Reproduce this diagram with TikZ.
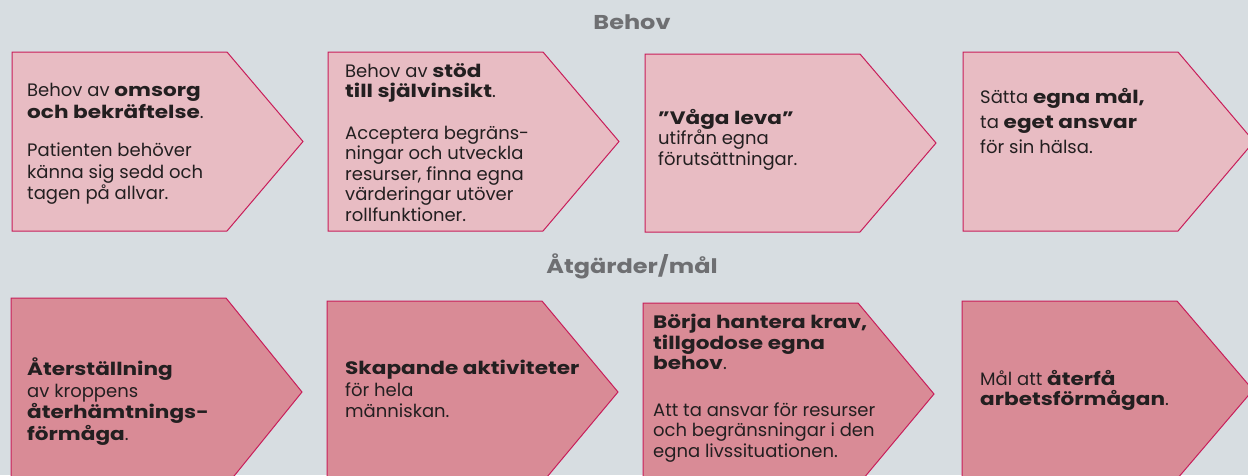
\documentclass[tikz,border=0pt]{standalone}
\usepackage{fontspec}
\setmainfont{Poppins}[BoldFeatures={FakeStretch=1.2}]

\definecolor{bgcol}{RGB}{215,221,225}
\definecolor{needfill}{RGB}{232,188,195}
\definecolor{goalfill}{RGB}{217,139,150}
\definecolor{edgecol}{RGB}{200,30,90}
\definecolor{headgray}{RGB}{110,111,114}
\definecolor{ink}{RGB}{35,31,32}

\tikzset{
  needbox/.style={draw=edgecol, line width=1pt, fill=needfill},
  goalbox/.style={draw=edgecol, line width=1pt, fill=goalfill},
  txt/.style={anchor=north west, align=left, inner sep=0pt, text=ink,
    font=\fontsize{18}{20.5}\selectfont},
  loose/.style={font=\fontsize{18}{21.5}\selectfont},
  heading/.style={text=headgray, inner sep=0pt, font=\fontsize{20}{22}\selectfont\bfseries}
}

% pentagon arrow: style, left x, top y, bottom y
\newcommand{\arrowbox}[4]{%
  \draw[#1] (#2,#3) -- ++(215,0) -- ++(76,{(#4-#3)/2}) -- ++(-76,{(#4-#3)/2}) -- ++(-215,0) -- cycle;}

\begin{document}
\begin{tikzpicture}[x=1pt, y=-1pt]
\fill[bgcol] (0,0) rectangle (1248,475);
\useasboundingbox (0,0) rectangle (1248,475);
\begin{scope}
\clip (0,0) rectangle (1248,475);

% headings
\node[heading] (behov) at (632,22) {Behov};
\node[heading] (atgard) at (632,266) {Åtgärder/mål};

% upper row
\arrowbox{needbox}{12}{52}{231}
\arrowbox{needbox}{328}{52}{231}
\arrowbox{needbox}{645}{54}{232}
\arrowbox{needbox}{963}{52}{231}

% lower row
\arrowbox{goalbox}{11}{298}{486}
\arrowbox{goalbox}{327}{301}{483}
\arrowbox{goalbox}{643}{303}{485}
\arrowbox{goalbox}{962}{301}{479}
\end{scope}

% texts, upper row
\node[txt, loose] (n1) at (27,83) {Behov av \textbf{omsorg}\\\textbf{och bekräftelse}.\\[17pt]
  Patienten behöver\\känna sig sedd och\\tagen på allvar.};
\node[txt] (n2) at (345,63) {Behov av \textbf{stöd}\\\textbf{till självinsikt}.\\[21pt]
  Acceptera begräns-\\ningar och utveckla\\resurser, finna egna\\värderingar utöver\\rollfunktioner.};
\node[txt] (n3) at (658,109) {\textbf{”Våga leva”}\\utifrån egna\\förutsättningar.};
\node[txt, font=\fontsize{18}{25}\selectfont] (n4) at (980,88) {Sätta \textbf{egna mål,}\\ta \textbf{eget ansvar}\\för sin hälsa.};

% texts, lower row
\node[txt, loose] (g1) at (27,358) {\textbf{Återställning}\\av kroppens\\\textbf{återhämtnings-}\\\textbf{förmåga}.};
\node[txt, loose] (g2) at (345,360) {\textbf{Skapande aktiviteter}\\för hela\\människan.};
\node[txt] (g3) at (653,314) {\textbf{Börja hantera krav,}\\\textbf{tillgodose egna}\\\textbf{behov}.\\[26pt]
  Att ta ansvar för resurser\\och begränsningar i den\\egna livssituationen.};
\node[txt] (g4) at (980,370) {Mål att \textbf{återfå}\\\textbf{arbetsförmågan}.};
\end{tikzpicture}
\end{document}
